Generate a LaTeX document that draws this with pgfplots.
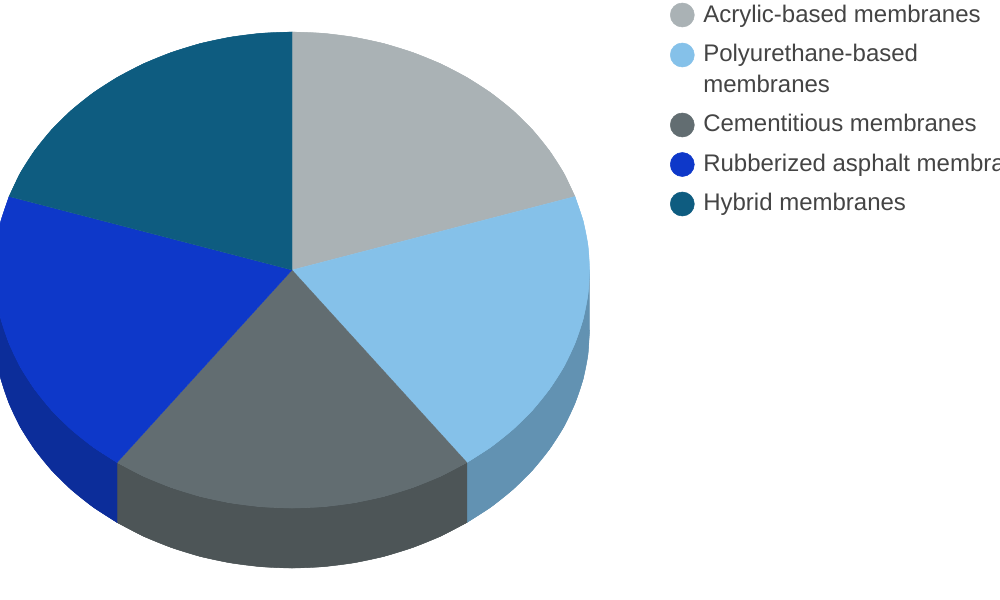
\documentclass[border=0pt]{standalone}
\usepackage{fontspec}
\setmainfont{Liberation Sans}
\usepackage{pgfplots}
\pgfplotsset{compat=1.18}
\definecolor{acry}{HTML}{AAB2B5}
\definecolor{poly}{HTML}{85C1E9}
\definecolor{ceme}{HTML}{626D71}
\definecolor{rubb}{HTML}{0E38C9}
\definecolor{hybr}{HTML}{0E5C80}
\definecolor{polyside}{HTML}{6292B2}
\definecolor{cemeside}{HTML}{4D5557}
\definecolor{rubbside}{HTML}{0C2D9A}
\definecolor{legtext}{HTML}{444444}
\tikzset{legtxt/.style={anchor=base west, inner sep=0pt, font=\fontsize{18}{22}\selectfont, text=legtext}}
\begin{document}
\begin{tikzpicture}
\path[use as bounding box] (0,0) rectangle (750pt,450pt);
\clip (0,0) rectangle (750pt,450pt);
\begin{axis}[at={(0,0)}, anchor=south west, scale only axis, width=750pt, height=450pt,
  xmin=0, xmax=1000, ymin=0, ymax=600, y dir=reverse, hide axis, clip=false]
% side walls, 60 px deep
\addplot[fill=polyside, draw=polyside, line width=0.2pt] coordinates {
 (589.5,270) (587.9,294.9) (583,319.5) (574.9,343.5) (563.8,366.8) (549.6,389) (532.7,409.9) (513.1,429.3) (491.1,446.9) (466.9,462.5)
 (466.9,522.5) (491.1,506.9) (513.1,489.3) (532.7,469.9) (549.6,449) (563.8,426.8) (574.9,403.5) (583,379.5) (587.9,354.9) (589.5,330)
} -- cycle;
\addplot[smooth, fill=polyside, draw=polyside, line width=0.2pt] coordinates {
 (466.9,522.5) (491.1,506.9) (513.1,489.3) (532.7,469.9) (549.6,449) (563.8,426.8) (574.9,403.5) (583,379.5) (587.9,354.9) (589.5,330)
} -- cycle;
\addplot[fill=cemeside, draw=cemeside, line width=0.2pt] coordinates {
 (466.9,462.5) (440.8,476.1) (413,487.4) (383.9,496.4) (353.9,502.8) (323.1,506.7) (292,508) (260.9,506.7) (230.1,502.8) (200.1,496.4) (171,487.4) (143.2,476.1) (117.1,462.5)
 (117.1,522.5) (143.2,536.1) (171,547.4) (200.1,556.4) (230.1,562.8) (260.9,566.7) (292,568) (323.1,566.7) (353.9,562.8) (383.9,556.4) (413,547.4) (440.8,536.1) (466.9,522.5)
} -- cycle;
\addplot[smooth, fill=cemeside, draw=cemeside, line width=0.2pt] coordinates {
 (117.1,522.5) (143.2,536.1) (171,547.4) (200.1,556.4) (230.1,562.8) (260.9,566.7) (292,568) (323.1,566.7) (353.9,562.8) (383.9,556.4) (413,547.4) (440.8,536.1) (466.9,522.5)
} -- cycle;
\addplot[fill=rubbside, draw=rubbside, line width=0.2pt] coordinates {
 (117.1,462.5) (92.9,446.9) (70.9,429.3) (51.3,409.9) (34.4,389) (20.2,366.8) (9.1,343.5) (1,319.5) (-3.9,294.9) (-5.5,270)
 (-5.5,330) (-3.9,354.9) (1,379.5) (9.1,403.5) (20.2,426.8) (34.4,449) (51.3,469.9) (70.9,489.3) (92.9,506.9) (117.1,522.5)
} -- cycle;
\addplot[smooth, fill=rubbside, draw=rubbside, line width=0.2pt] coordinates {
 (-5.5,330) (-3.9,354.9) (1,379.5) (9.1,403.5) (20.2,426.8) (34.4,449) (51.3,469.9) (70.9,489.3) (92.9,506.9) (117.1,522.5)
} -- cycle;
% top face, five equal slices: the wedge, then its rounded rim
\addplot[fill=acry, draw=acry, line width=0.2pt] coordinates {
 (292,270) (292,32) (323.1,33.3) (353.9,37.2) (383.9,43.6) (413,52.6) (440.8,63.9) (466.9,77.5) (491.1,93.1) (513.1,110.7) (532.7,130.1) (549.6,151) (563.8,173.2) (574.9,196.5)
} -- cycle;
\addplot[smooth, fill=acry, draw=acry, line width=0.2pt] coordinates {
 (292,32) (323.1,33.3) (353.9,37.2) (383.9,43.6) (413,52.6) (440.8,63.9) (466.9,77.5) (491.1,93.1) (513.1,110.7) (532.7,130.1) (549.6,151) (563.8,173.2) (574.9,196.5)
} -- cycle;
\addplot[fill=poly, draw=poly, line width=0.2pt] coordinates {
 (292,270) (574.9,196.5) (583,220.5) (587.9,245.1) (589.5,270) (587.9,294.9) (583,319.5) (574.9,343.5) (563.8,366.8) (549.6,389) (532.7,409.9) (513.1,429.3) (491.1,446.9) (466.9,462.5)
} -- cycle;
\addplot[smooth, fill=poly, draw=poly, line width=0.2pt] coordinates {
 (574.9,196.5) (583,220.5) (587.9,245.1) (589.5,270) (587.9,294.9) (583,319.5) (574.9,343.5) (563.8,366.8) (549.6,389) (532.7,409.9) (513.1,429.3) (491.1,446.9) (466.9,462.5)
} -- cycle;
\addplot[fill=ceme, draw=ceme, line width=0.2pt] coordinates {
 (292,270) (466.9,462.5) (440.8,476.1) (413,487.4) (383.9,496.4) (353.9,502.8) (323.1,506.7) (292,508) (260.9,506.7) (230.1,502.8) (200.1,496.4) (171,487.4) (143.2,476.1) (117.1,462.5)
} -- cycle;
\addplot[smooth, fill=ceme, draw=ceme, line width=0.2pt] coordinates {
 (466.9,462.5) (440.8,476.1) (413,487.4) (383.9,496.4) (353.9,502.8) (323.1,506.7) (292,508) (260.9,506.7) (230.1,502.8) (200.1,496.4) (171,487.4) (143.2,476.1) (117.1,462.5)
} -- cycle;
\addplot[fill=rubb, draw=rubb, line width=0.2pt] coordinates {
 (292,270) (117.1,462.5) (92.9,446.9) (70.9,429.3) (51.3,409.9) (34.4,389) (20.2,366.8) (9.1,343.5) (1,319.5) (-3.9,294.9) (-5.5,270) (-3.9,245.1) (1,220.5) (9.1,196.5)
} -- cycle;
\addplot[smooth, fill=rubb, draw=rubb, line width=0.2pt] coordinates {
 (117.1,462.5) (92.9,446.9) (70.9,429.3) (51.3,409.9) (34.4,389) (20.2,366.8) (9.1,343.5) (1,319.5) (-3.9,294.9) (-5.5,270) (-3.9,245.1) (1,220.5) (9.1,196.5)
} -- cycle;
\addplot[fill=hybr, draw=hybr, line width=0.2pt] coordinates {
 (292,270) (9.1,196.5) (20.2,173.2) (34.4,151) (51.3,130.1) (70.9,110.7) (92.9,93.1) (117.1,77.5) (143.2,63.9) (171,52.6) (200.1,43.6) (230.1,37.2) (260.9,33.3) (292,32)
} -- cycle;
\addplot[smooth, fill=hybr, draw=hybr, line width=0.2pt] coordinates {
 (9.1,196.5) (20.2,173.2) (34.4,151) (51.3,130.1) (70.9,110.7) (92.9,93.1) (117.1,77.5) (143.2,63.9) (171,52.6) (200.1,43.6) (230.1,37.2) (260.9,33.3) (292,32)
} -- cycle;
% legend
\addplot[only marks, mark=*, mark size=9pt, color=acry] coordinates {(682.3,15)};
\addplot[only marks, mark=*, mark size=9pt, color=poly] coordinates {(682.3,55)};
\addplot[only marks, mark=*, mark size=9pt, color=ceme] coordinates {(682.3,125)};
\addplot[only marks, mark=*, mark size=9pt, color=rubb] coordinates {(682.3,164.5)};
\addplot[only marks, mark=*, mark size=9pt, color=hybr] coordinates {(682.3,204)};
\node[legtxt] at (axis cs:703,22.5) {Acrylic-based membranes};
\node[legtxt] at (axis cs:703,61.5) {Polyurethane-based};
\node[legtxt] at (axis cs:703,92.5) {membranes};
\node[legtxt] at (axis cs:703,131.5) {Cementitious membranes};
\node[legtxt] at (axis cs:703,171.3) {Rubberized asphalt membranes};
\node[legtxt] at (axis cs:703,210.7) {Hybrid membranes};
\end{axis}
\end{tikzpicture}
\end{document}
